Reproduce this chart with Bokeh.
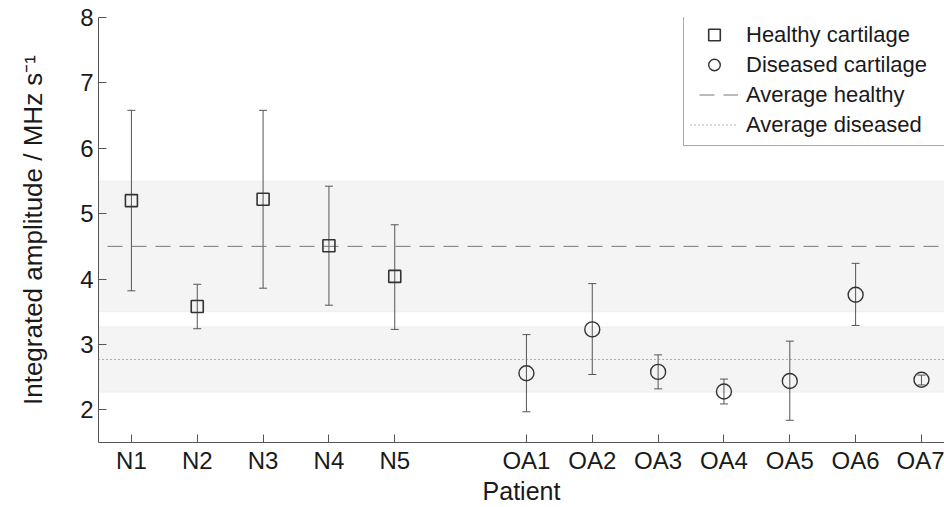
from bokeh.plotting import figure
from bokeh.models import (ColumnDataSource, Whisker, TeeHead, BoxAnnotation,
                          Legend, LegendItem, FixedTicker, Range1d)
from bokeh.embed import file_html
from bokeh.resources import INLINE

# ---- data ----
healthy_labels = ["N1", "N2", "N3", "N4", "N5"]
healthy_x = [1, 2, 3, 4, 5]
healthy_mean = [5.20, 3.58, 5.22, 4.51, 4.04]
healthy_upper = [6.58, 3.92, 6.58, 5.42, 4.83]
healthy_lower = [3.82, 3.24, 3.86, 3.60, 3.23]

diseased_labels = ["OA1", "OA2", "OA3", "OA4", "OA5", "OA6", "OA7"]
diseased_x = [7, 8, 9, 10, 11, 12, 13]
diseased_mean = [2.56, 3.23, 2.58, 2.28, 2.44, 3.76, 2.46]
diseased_upper = [3.15, 3.93, 2.84, 2.47, 3.05, 4.24, 2.53]
diseased_lower = [1.97, 2.54, 2.32, 2.09, 1.84, 3.29, 2.38]

avg_healthy = 4.50
healthy_band = [3.50, 5.50]
avg_diseased = 2.77
diseased_band = [2.27, 3.27]

y_ticks = [2, 3, 4, 5, 6, 7, 8]
x_lo, x_hi = 0.5, 13.35
y_lo, y_hi = 1.5, 8.0

FONT = "Liberation Sans"
TXT = "#1a1a1a"

p = figure(width=944, height=507, x_range=Range1d(x_lo, x_hi), y_range=Range1d(y_lo, y_hi),
           output_backend="svg", toolbar_location=None,
           min_border_left=98, min_border_right=0, min_border_top=17, min_border_bottom=65)
p.outline_line_color = None
p.xgrid.visible = False
p.ygrid.visible = False
p.background_fill_color = "white"

# bands
for lo, hi in (healthy_band, diseased_band):
    p.add_layout(BoxAnnotation(bottom=lo, top=hi, fill_color="#f4f4f4", fill_alpha=1.0,
                               line_color="#dadada", line_width=1, level="underlay"))

# average lines
r_avg_h = p.line(x=[x_lo, x_hi], y=[avg_healthy, avg_healthy], line_color="#777777",
                 line_width=1, line_dash="15 9", line_dash_offset=-9)
r_avg_d = p.line(x=[x_lo, x_hi], y=[avg_diseased, avg_diseased], line_color="#666666",
                 line_width=1, line_dash="1 3")

# error bars
for xs, up, lo in ((healthy_x, healthy_upper, healthy_lower),
                   (diseased_x, diseased_upper, diseased_lower)):
    src = ColumnDataSource(dict(x=xs, upper=up, lower=lo))
    p.add_layout(Whisker(source=src, base="x", upper="upper", lower="lower",
                         dimension="height", line_color="#555555", line_width=1,
                         upper_head=TeeHead(size=8, line_color="#555555", line_width=1),
                         lower_head=TeeHead(size=8, line_color="#555555", line_width=1)))

r_h = p.scatter(x=healthy_x, y=healthy_mean, marker="square", size=12,
                fill_color=None, line_color="#333333", line_width=1.6)
r_d = p.scatter(x=diseased_x, y=diseased_mean, marker="circle", size=15,
                fill_color=None, line_color="#333333", line_width=1.4)

# axes
p.xaxis.ticker = FixedTicker(ticks=healthy_x + diseased_x)
p.xaxis.major_label_overrides = {x: l for x, l in zip(healthy_x + diseased_x,
                                                       healthy_labels + diseased_labels)}
p.yaxis.ticker = FixedTicker(ticks=y_ticks)
for ax in (p.xaxis[0], p.yaxis[0]):
    ax.major_tick_in = 8
    ax.major_tick_out = 0
    ax.minor_tick_line_color = None
    ax.axis_line_color = "#555555"
    ax.major_tick_line_color = "#555555"
    ax.major_label_text_font = FONT
    ax.major_label_text_font_size = "24px"
    ax.major_label_text_color = TXT
    ax.axis_label_text_font = FONT
    ax.axis_label_text_font_size = "26px"
    ax.axis_label_text_font_style = "normal"
    ax.axis_label_text_color = TXT

p.xaxis.axis_label = "Patient"
p.xaxis.axis_label_text_font_size = "25px"
p.xaxis.major_label_standoff = 4
p.xaxis.axis_label_standoff = 0
p.yaxis.axis_label = "Integrated amplitude / MHz s\u207b\u00b9"
p.yaxis.major_label_standoff = 5
p.yaxis.axis_label_standoff = 29

legend = Legend(items=[LegendItem(label="Healthy cartilage", renderers=[r_h]),
                       LegendItem(label="Diseased cartilage", renderers=[r_d]),
                       LegendItem(label="Average healthy", renderers=[r_avg_h]),
                       LegendItem(label="Average diseased", renderers=[r_avg_d])],
                location=(585, 296), padding=6, spacing=1, glyph_height=29, glyph_width=48,
                label_standoff=8, label_width=200, margin=0,
                label_text_font=FONT, label_text_font_size="22px", label_text_color=TXT,
                border_line_color="#555555", border_line_width=1,
                background_fill_color="white", background_fill_alpha=1.0)
p.add_layout(legend)

open("out.html", "w").write(file_html(p, INLINE))
